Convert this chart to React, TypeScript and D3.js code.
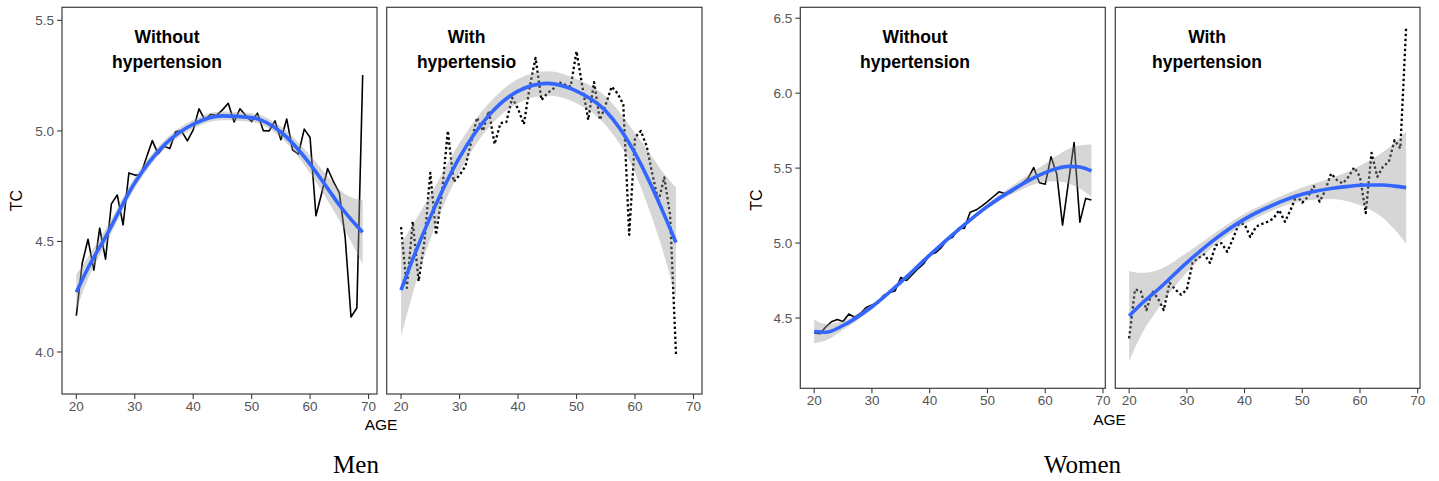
import React from "react";
import * as d3 from "d3";

// ---------- data ----------
const menAges = d3.range(20, 70); // 20..69
const womenAges = d3.range(20, 69); // 20..68
const menAges2 = d3.range(20, 68); // 20..67

const menWithout = [
  4.164, 4.40, 4.51, 4.37, 4.56, 4.42, 4.67, 4.71, 4.575, 4.81,
  4.80, 4.80, 4.88, 4.956, 4.896, 4.93, 4.92, 4.997, 5.0, 4.955,
  5.005, 5.10, 5.05, 5.075, 5.07, 5.095, 5.125, 5.04, 5.10, 5.07,
  5.042, 5.08, 5.001, 5.0, 5.045, 4.96, 5.054, 4.914, 4.895, 5.008,
  4.97, 4.616, 4.72, 4.83, 4.77, 4.72, 4.52, 4.158, 4.199, 5.253,
];
const menWith = [
  4.565, 4.29, 4.59, 4.32, 4.50, 4.81, 4.53, 4.72, 5.00, 4.77,
  4.80, 4.84, 4.95, 5.06, 5.00, 5.09, 4.94, 5.035, 5.04, 5.15,
  5.10, 5.03, 5.20, 5.33, 5.14, 5.17, 5.19, 5.22, 5.21, 5.20,
  5.36, 5.20, 5.05, 5.22, 5.05, 5.12, 5.20, 5.17, 5.12, 4.53,
  4.97, 5.00, 4.93, 4.80, 4.68, 4.79, 4.62, 3.99,
];
const womenWithout = [
  4.40, 4.395, 4.44, 4.475, 4.49, 4.476, 4.527, 4.505, 4.53, 4.57,
  4.587, 4.60, 4.65, 4.67, 4.68, 4.77, 4.75, 4.79, 4.83, 4.865,
  4.92, 4.935, 4.97, 5.02, 5.04, 5.10, 5.098, 5.205, 5.22, 5.247,
  5.276, 5.309, 5.342, 5.33, 5.336, 5.364, 5.398, 5.43, 5.504, 5.402,
  5.393, 5.576, 5.46, 5.12, 5.40, 5.67, 5.14, 5.298, 5.287,
];
const womenWith = [
  4.364, 4.69, 4.68, 4.553, 4.68, 4.63, 4.553, 4.735, 4.69, 4.655,
  4.69, 4.87, 4.90, 4.925, 4.868, 4.985, 5.0, 4.942, 5.03, 5.13,
  5.127, 5.04, 5.11, 5.127, 5.142, 5.164, 5.22, 5.142, 5.224, 5.32,
  5.27, 5.31, 5.38, 5.276, 5.353, 5.464, 5.42, 5.398, 5.442, 5.504,
  5.442, 5.20, 5.602, 5.442, 5.51, 5.542, 5.687, 5.631, 6.447,
];

// smooth fits (knot ages, fitted value, half-width of the band)
const menWithoutFitAges = [20, 22, 25, 30, 35, 40, 45, 50, 55, 60, 63, 65, 67, 69];
const menWithoutFit = [4.27, 4.38, 4.52, 4.765, 4.935, 5.03, 5.068, 5.06, 4.995, 4.85, 4.74, 4.665, 4.60, 4.542];
const menWithoutSe = [0.08, 0.05, 0.035, 0.025, 0.02, 0.02, 0.02, 0.02, 0.025, 0.04, 0.055, 0.07, 0.1, 0.145];

const menWithFitAges = [20, 22, 25, 30, 35, 40, 45, 50, 55, 60, 63, 65, 67];
const menWithFit = [4.28, 4.42, 4.61, 4.88, 5.07, 5.18, 5.215, 5.18, 5.09, 4.90, 4.74, 4.62, 4.495];
const menWithSe = [0.21, 0.155, 0.1, 0.065, 0.055, 0.055, 0.055, 0.055, 0.065, 0.09, 0.14, 0.185, 0.25];

const womenWithoutFitAges = [20, 22, 25, 30, 35, 40, 45, 50, 55, 58, 60, 62, 64, 66, 68];
const womenWithoutFit = [4.41, 4.405, 4.45, 4.575, 4.74, 4.92, 5.09, 5.245, 5.37, 5.435, 5.47, 5.497, 5.512, 5.507, 5.482];
const womenWithoutSe = [0.078, 0.055, 0.03, 0.018, 0.015, 0.015, 0.015, 0.018, 0.03, 0.045, 0.06, 0.085, 0.115, 0.145, 0.175];

const womenWithFitAges = [20, 22, 25, 30, 35, 40, 45, 50, 55, 58, 61, 64, 66, 68];
const womenWithFit = [4.513, 4.59, 4.69, 4.87, 5.03, 5.16, 5.255, 5.325, 5.364, 5.378, 5.387, 5.387, 5.38, 5.37];
const womenWithSe = [0.30, 0.21, 0.13, 0.065, 0.04, 0.035, 0.035, 0.045, 0.07, 0.10, 0.15, 0.22, 0.29, 0.375];

const xTicks = [20, 30, 40, 50, 60, 70];
const menYTicks = [4.0, 4.5, 5.0, 5.5];
const womenYTicks = [4.5, 5.0, 5.5, 6.0, 6.5];

const SANS = "'Liberation Sans', Arial, Helvetica, sans-serif";
const SERIF = "'Liberation Serif', 'Times New Roman', serif";

type PanelProps = {
  id: string;
  left: number;
  right: number;
  top: number;
  bottom: number;
  xDomain: [number, number];
  yDomain: [number, number];
  yTicks: number[] | null;
  ages: number[];
  values: number[];
  dotted: boolean;
  fitAges: number[];
  fit: number[];
  se: number[];
  title: string[];
  titleX: number;
};

function Panel(p: PanelProps) {
  const x = d3.scaleLinear().domain(p.xDomain).range([p.left, p.right]);
  const y = d3.scaleLinear().domain(p.yDomain).range([p.bottom, p.top]);
  const pts = p.ages.map((a, i) => [a, p.values[i]] as [number, number]);
  const line = d3
    .line<[number, number]>()
    .x((d) => x(d[0]))
    .y((d) => y(d[1]));
  const knots = p.fitAges.map((a, i) => ({ a, f: p.fit[i], s: p.se[i] }));
  const area = d3
    .area<{ a: number; f: number; s: number }>()
    .x((d) => x(d.a))
    .y0((d) => y(d.f - d.s))
    .y1((d) => y(d.f + d.s))
    .curve(d3.curveMonotoneX);
  const fitLine = d3
    .line<{ a: number; f: number; s: number }>()
    .x((d) => x(d.a))
    .y((d) => y(d.f))
    .curve(d3.curveMonotoneX);
  const axisColor = "#3c3c3c";
  const tickColor = "#555";
  return (
    <g>
      <defs>
        <clipPath id={p.id}>
          <rect x={p.left} y={p.top} width={p.right - p.left} height={p.bottom - p.top} />
        </clipPath>
      </defs>
      <g clipPath={`url(#${p.id})`}>
        <path
          d={line(pts) || ""}
          fill="none"
          stroke="#000"
          strokeWidth={p.dotted ? 2.3 : 1.6}
          strokeDasharray={p.dotted ? "2.4,2.6" : undefined}
          strokeLinejoin="round"
        />
        <path d={area(knots) || ""} fill="#999999" fillOpacity={0.4} />
        <path d={fitLine(knots) || ""} fill="none" stroke="#3366FF" strokeWidth={3.6} />
      </g>
      <rect
        x={p.left}
        y={p.top}
        width={p.right - p.left}
        height={p.bottom - p.top}
        fill="none"
        stroke={axisColor}
        strokeWidth={1.2}
      />
      {xTicks.map((t) => (
        <g key={"x" + t}>
          <line x1={x(t)} x2={x(t)} y1={p.bottom} y2={p.bottom + 5} stroke={axisColor} strokeWidth={1.1} />
          <text
            x={x(t)}
            y={p.bottom + 16.5}
            textAnchor="middle"
            fontFamily={SANS}
            fontSize={13.5}
            fill={tickColor}
          >
            {t}
          </text>
        </g>
      ))}
      {p.yTicks &&
        p.yTicks.map((t) => (
          <g key={"y" + t}>
            <line x1={p.left - 5} x2={p.left} y1={y(t)} y2={y(t)} stroke={axisColor} strokeWidth={1.1} />
            <text
              x={p.left - 8}
              y={y(t)}
              dy="0.35em"
              textAnchor="end"
              fontFamily={SANS}
              fontSize={13.5}
              fill={tickColor}
            >
              {t.toFixed(1)}
            </text>
          </g>
        ))}
      {p.title.map((s, i) => (
        <text
          key={"t" + i}
          x={p.titleX}
          y={43 + i * 25}
          textAnchor="middle"
          fontFamily={SANS}
          fontWeight="bold"
          fontSize={17.5}
          fill="#000"
        >
          {s}
        </text>
      ))}
    </g>
  );
}

export default function App() {
  const menX: [number, number] = [17.55, 71.45];
  const womenX: [number, number] = [17.6, 70.4];
  const menY: [number, number] = [3.81, 5.559];
  const womenY: [number, number] = [4.031, 6.573];
  return (
    <div style={{ position: "absolute", left: 0, top: 0 }}>
      <svg width={1439} height={481} style={{ display: "block", background: "#fff" }}>
        <Panel
          id="c1"
          left={62}
          right={377}
          top={7.3}
          bottom={394}
          xDomain={menX}
          yDomain={menY}
          yTicks={menYTicks}
          ages={menAges}
          values={menWithout}
          dotted={false}
          fitAges={menWithoutFitAges}
          fit={menWithoutFit}
          se={menWithoutSe}
          title={["Without", "hypertension"]}
          titleX={167}
        />
        <Panel
          id="c2"
          left={386.7}
          right={702}
          top={7.3}
          bottom={394}
          xDomain={menX}
          yDomain={menY}
          yTicks={null}
          ages={menAges2}
          values={menWith}
          dotted={true}
          fitAges={menWithFitAges}
          fit={menWithFit}
          se={menWithSe}
          title={["With", "hypertensio"]}
          titleX={466.5}
        />
        <Panel
          id="c3"
          left={800.3}
          right={1105.3}
          top={7.3}
          bottom={388.3}
          xDomain={womenX}
          yDomain={womenY}
          yTicks={womenYTicks}
          ages={womenAges}
          values={womenWithout}
          dotted={false}
          fitAges={womenWithoutFitAges}
          fit={womenWithoutFit}
          se={womenWithoutSe}
          title={["Without", "hypertension"]}
          titleX={915}
        />
        <Panel
          id="c4"
          left={1115.3}
          right={1420}
          top={7.3}
          bottom={388.3}
          xDomain={womenX}
          yDomain={womenY}
          yTicks={null}
          ages={womenAges}
          values={womenWith}
          dotted={true}
          fitAges={womenWithFitAges}
          fit={womenWithFit}
          se={womenWithSe}
          title={["With", "hypertension"]}
          titleX={1207}
        />
        {/* axis titles */}
        <text x={381} y={430} textAnchor="middle" fontFamily={SANS} fontSize={15.5} fill="#000">
          AGE
        </text>
        <text x={1109.5} y={425} textAnchor="middle" fontFamily={SANS} fontSize={15.5} fill="#000">
          AGE
        </text>
        <text
          transform="translate(22,200.5) rotate(-90)"
          textAnchor="middle"
          fontFamily={SANS}
          fontSize={16}
          fill="#000"
        >
          TC
        </text>
        <text
          transform="translate(761.5,200) rotate(-90)"
          textAnchor="middle"
          fontFamily={SANS}
          fontSize={16}
          fill="#000"
        >
          TC
        </text>
        <text x={356} y={473} textAnchor="middle" fontFamily={SERIF} fontSize={25} fill="#000">
          Men
        </text>
        <text x={1082.5} y={473} textAnchor="middle" fontFamily={SERIF} fontSize={25} fill="#000">
          Women
        </text>
      </svg>
    </div>
  );
}
